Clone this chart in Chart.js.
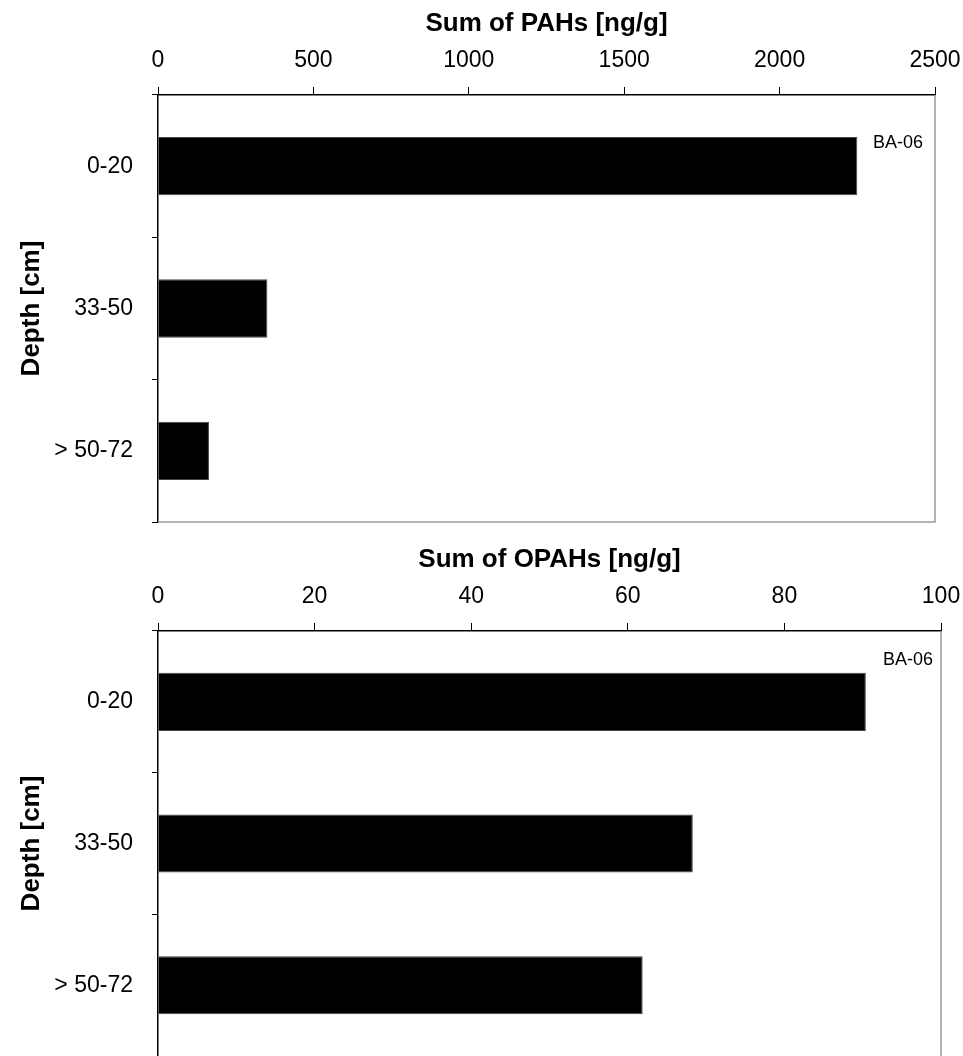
<!DOCTYPE html>
<html>
<head>
<meta charset="utf-8">
<script src="https://cdn.jsdelivr.net/npm/chart.js@4"></script>
<style>
	html, body { margin: 0; background: #fff; overflow: hidden; }
	canvas { position: absolute; left: 0; display: block; }
	#pah { top: 0; }
	#opah { top: 536px; }
</style>
</head>
<body>
<canvas id="pah" width="963" height="526"></canvas>
<canvas id="opah" width="963" height="520"></canvas>
<script>
var depths = ['0-20', '33-50', '> 50-72'];
var pahValues = [2250, 352, 164];
var opahValues = [90.4, 68.3, 61.9];
var pahTicks = [0, 500, 1000, 1500, 2000, 2500];
var opahTicks = [0, 20, 40, 60, 80, 100];
var siteLabel = 'BA-06';

Chart.defaults.font.family = "'Liberation Sans', Arial, sans-serif";
Chart.defaults.color = '#000';

// gray right/bottom frame plus the site label in the corner
var framePlugin = {
	id: 'frame',
	afterDraw: function(chart, args, opts) {
		var a = chart.chartArea;
		var ctx = chart.ctx;
		ctx.save();
		ctx.strokeStyle = '#9a9a9a';
		ctx.lineWidth = 1.5;
		ctx.beginPath();
		ctx.moveTo(a.right, a.top);
		ctx.lineTo(a.right, a.bottom);
		if (opts.bottom) ctx.lineTo(a.left, a.bottom);
		ctx.stroke();
		ctx.fillStyle = '#000';
		ctx.font = "18px 'Liberation Sans', Arial, sans-serif";
		ctx.textAlign = 'right';
		ctx.textBaseline = 'middle';
		ctx.fillText(siteLabel, a.right - opts.labelDx, a.top + opts.labelDy);
		ctx.restore();
	}
};

// keep the plot box where the layout padding puts it
function noPad(s) {
	s.paddingLeft = 0;
	s.paddingRight = 0;
	s.paddingTop = 0;
	s.paddingBottom = 0;
}

function makeChart(id, values, ticks, title, rightPad, bottomPad, frameOpts) {
	return new Chart(id, {
		type: 'bar',
		data: {
			labels: depths,
			datasets: [{
				data: values,
				backgroundColor: '#000',
				borderColor: '#444',
				borderWidth: 1,
				barPercentage: 0.41,
				categoryPercentage: 1
			}]
		},
		options: {
			indexAxis: 'y',
			responsive: false,
			animation: false,
			layout: { padding: { top: 0, left: 0, right: rightPad, bottom: bottomPad } },
			plugins: {
				legend: { display: false },
				tooltip: { enabled: false },
				frame: frameOpts
			},
			scales: {
				x: {
					position: 'top',
					min: ticks[0],
					max: ticks[ticks.length - 1],
					afterBuildTicks: function(s) { s.ticks = ticks.map(function(v) { return { value: v }; }); },
					afterFit: function(s) { s.height = 95; noPad(s); },
					grid: { drawOnChartArea: false, drawTicks: true, tickLength: 8, color: '#000' },
					border: { display: true, color: '#000', width: 1.5 },
					ticks: {
						font: { size: 23 },
						padding: 13,
						maxRotation: 0,
						callback: function(v) { return String(v); }
					},
					title: {
						display: true,
						text: title,
						font: { size: 26, weight: 'bold' },
						padding: { top: 8, bottom: 0 }
					}
				},
				y: {
					offset: true,
					afterFit: function(s) { s.width = 158; noPad(s); },
					grid: { offset: true, drawOnChartArea: false, drawTicks: true, tickLength: 6, color: '#000' },
					border: { display: true, color: '#000', width: 1.5 },
					ticks: { font: { size: 23 }, padding: 19 },
					title: {
						display: true,
						text: 'Depth [cm]',
						font: { size: 26, weight: 'bold' },
						padding: { top: 16, bottom: 0 }
					}
				}
			}
		},
		plugins: [framePlugin]
	});
}

makeChart('pah', pahValues, pahTicks, 'Sum of PAHs [ng/g]', 28, 4, { bottom: true, labelDx: 12, labelDy: 48 });
makeChart('opah', opahValues, opahTicks, 'Sum of OPAHs [ng/g]', 22, 0, { bottom: false, labelDx: 8, labelDy: 29 });
</script>
</body>
</html>
